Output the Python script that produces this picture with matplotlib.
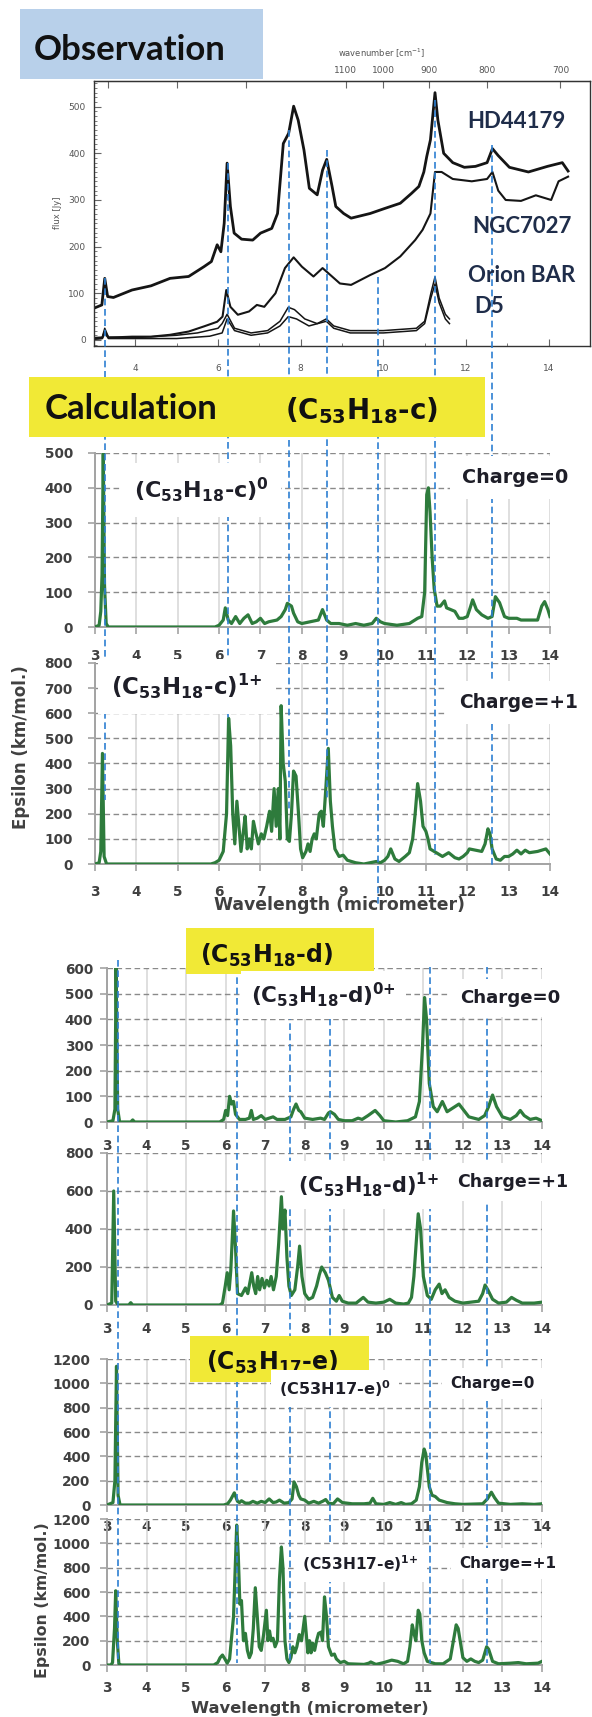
import numpy as np
import matplotlib
matplotlib.use("Agg")
import matplotlib.pyplot as plt
from matplotlib.lines import Line2D
from matplotlib.patches import Rectangle
from matplotlib.transforms import blended_transform_factory
from matplotlib.ticker import MultipleLocator, FixedLocator

W, H = 592, 1717

# ---- observed spectra (wavelength um, flux Jy) ----
hd44179 = [(3.0, 68), (3.19, 75), (3.26, 132), (3.33, 93), (3.47, 91), (3.92, 107), (4.38, 116),
           (4.84, 132), (5.29, 136), (5.66, 157), (5.84, 168), (5.98, 204), (6.07, 189), (6.15, 250),
           (6.22, 379), (6.3, 286), (6.39, 229), (6.57, 216), (6.84, 214), (7.03, 229), (7.3, 239),
           (7.44, 271), (7.58, 421), (7.71, 443), (7.83, 501), (7.94, 471), (8.08, 407), (8.21, 325),
           (8.4, 311), (8.53, 364), (8.63, 387), (8.76, 329), (8.85, 286), (9.04, 271), (9.22, 261),
           (9.68, 271), (10.04, 282), (10.41, 293), (10.68, 314), (10.86, 329), (10.98, 360),
           (11.05, 393), (11.14, 429), (11.25, 530), (11.32, 471), (11.46, 400), (11.68, 380),
           (11.96, 370), (12.23, 372), (12.51, 380), (12.64, 410), (12.78, 395), (13.05, 370),
           (13.51, 360), (13.97, 372), (14.33, 380), (14.47, 362)]
ngc7027 = [(3.0, 2), (3.2, 4), (3.26, 18), (3.35, 5), (3.92, 7), (4.38, 7), (4.84, 11), (5.29, 18),
           (5.66, 29), (5.98, 39), (6.11, 50), (6.2, 107), (6.3, 71), (6.48, 54), (6.75, 61),
           (6.94, 75), (7.12, 71), (7.39, 100), (7.62, 154), (7.83, 177), (8.03, 157), (8.31, 136),
           (8.53, 154), (8.67, 143), (8.95, 121), (9.22, 118), (9.68, 139), (10.04, 154),
           (10.41, 179), (10.77, 214), (10.95, 236), (11.14, 271), (11.25, 360), (11.41, 360),
           (11.68, 345), (12.14, 340), (12.51, 345), (12.64, 360), (12.78, 320), (12.96, 300),
           (13.33, 298), (13.69, 310), (14.06, 300), (14.24, 340), (14.47, 350)]
orion_bar = [(3.0, 5), (3.2, 6), (3.26, 25), (3.35, 6), (4.0, 5), (5.0, 10), (5.5, 15), (6.0, 25),
             (6.1, 35), (6.22, 55), (6.4, 25), (6.8, 15), (7.2, 20), (7.5, 40), (7.7, 70),
             (7.85, 65), (8.1, 45), (8.4, 35), (8.62, 45), (8.8, 30), (9.2, 20), (10.0, 20),
             (10.8, 25), (11.0, 40), (11.15, 100), (11.25, 135), (11.35, 90), (11.5, 55), (11.6, 45)]
d5 = [(3.0, 2), (3.2, 3), (3.26, 15), (3.35, 3), (5.0, 3), (5.8, 8), (6.1, 15), (6.22, 45),
      (6.4, 20), (6.8, 10), (7.2, 15), (7.5, 30), (7.7, 50), (7.9, 45), (8.2, 30), (8.62, 40),
      (8.8, 25), (9.2, 15), (10.0, 15), (10.8, 20), (11.0, 35), (11.15, 90), (11.25, 120),
      (11.35, 80), (11.5, 45), (11.6, 35)]

# ---- calculated spectra (wavelength um, epsilon km/mol) ----
c_neutral = [(3.0, 0), (3.1, 5), (3.14, 45), (3.17, 150), (3.2, 500), (3.23, 120), (3.27, 10),
             (3.32, 0), (5.9, 0), (6.0, 5), (6.1, 20), (6.15, 55), (6.22, 20), (6.3, 10), (6.4, 30),
             (6.5, 10), (6.6, 25), (6.7, 35), (6.8, 10), (6.9, 15), (7.0, 25), (7.1, 10), (7.2, 15),
             (7.4, 20), (7.5, 30), (7.6, 50), (7.65, 68), (7.75, 60), (7.8, 40), (7.9, 15),
             (8.0, 10), (8.2, 15), (8.4, 20), (8.5, 50), (8.6, 20), (8.7, 10), (8.9, 10), (9.1, 5),
             (9.3, 10), (9.5, 5), (9.7, 10), (9.8, 25), (9.9, 15), (10.0, 10), (10.3, 5),
             (10.6, 10), (10.8, 25), (10.9, 30), (10.97, 100), (11.02, 380), (11.06, 400),
             (11.1, 330), (11.15, 200), (11.2, 110), (11.27, 60), (11.35, 60), (11.45, 75),
             (11.5, 55), (11.6, 50), (11.7, 45), (11.8, 25), (11.9, 25), (12.0, 30), (12.07, 55),
             (12.13, 78), (12.22, 50), (12.35, 35), (12.5, 25), (12.6, 30), (12.68, 87),
             (12.78, 70), (12.9, 30), (13.0, 25), (13.2, 25), (13.3, 20), (13.5, 20), (13.7, 20),
             (13.8, 60), (13.87, 73), (13.95, 50), (14.0, 30)]
c_cation = [(3.0, 0), (3.1, 5), (3.14, 50), (3.18, 440), (3.22, 30), (3.28, 0), (5.8, 0), (5.9, 5),
            (6.0, 15), (6.1, 50), (6.18, 200), (6.23, 580), (6.28, 470), (6.33, 200), (6.38, 80),
            (6.43, 250), (6.48, 150), (6.53, 50), (6.58, 120), (6.63, 190), (6.68, 60),
            (6.73, 100), (6.78, 60), (6.83, 170), (6.88, 130), (6.95, 80), (7.02, 120),
            (7.08, 100), (7.15, 150), (7.22, 210), (7.27, 130), (7.33, 300), (7.38, 150),
            (7.43, 300), (7.47, 100), (7.5, 630), (7.55, 400), (7.6, 330), (7.65, 100), (7.7, 90),
            (7.75, 200), (7.8, 370), (7.86, 350), (7.92, 200), (7.97, 60), (8.02, 25), (8.1, 50),
            (8.15, 80), (8.2, 50), (8.25, 100), (8.3, 120), (8.35, 100), (8.42, 200), (8.47, 210),
            (8.52, 150), (8.58, 300), (8.64, 460), (8.69, 250), (8.74, 150), (8.8, 60), (8.9, 30),
            (9.0, 35), (9.1, 15), (9.3, 5), (9.5, 0), (9.8, 10), (9.9, 5), (10.0, 15), (10.08, 30),
            (10.15, 60), (10.25, 20), (10.35, 10), (10.5, 30), (10.6, 45), (10.68, 100),
            (10.74, 200), (10.8, 320), (10.87, 250), (10.93, 150), (11.0, 130), (11.05, 100),
            (11.1, 60), (11.2, 50), (11.3, 40), (11.4, 30), (11.5, 40), (11.55, 45), (11.7, 25),
            (11.8, 20), (11.9, 30), (12.0, 45), (12.05, 60), (12.2, 55), (12.35, 50), (12.43, 80),
            (12.5, 140), (12.55, 120), (12.6, 60), (12.7, 20), (12.8, 15), (12.9, 30), (13.0, 30),
            (13.1, 40), (13.2, 55), (13.3, 40), (13.4, 55), (13.5, 45), (13.7, 50), (13.9, 60),
            (14.0, 40)]
d_neutral = [(3.0, 0), (3.15, 5), (3.2, 50), (3.23, 600), (3.27, 50), (3.32, 0), (3.6, 0),
             (3.65, 8), (3.7, 0), (5.85, 0), (5.95, 10), (6.0, 45), (6.05, 25), (6.1, 100),
             (6.15, 70), (6.2, 80), (6.25, 30), (6.35, 10), (6.5, 10), (6.6, 15), (6.65, 45),
             (6.7, 10), (6.8, 15), (6.9, 25), (7.0, 10), (7.1, 15), (7.2, 20), (7.3, 10), (7.5, 10),
             (7.65, 20), (7.72, 50), (7.78, 70), (7.85, 45), (7.9, 40), (8.0, 15), (8.2, 10),
             (8.4, 15), (8.5, 10), (8.6, 35), (8.65, 40), (8.75, 30), (8.85, 10), (9.0, 5),
             (9.2, 5), (9.35, 15), (9.45, 10), (9.6, 25), (9.78, 45), (9.9, 25), (10.0, 5),
             (10.3, 0), (10.6, 5), (10.8, 20), (10.9, 80), (10.98, 300), (11.03, 485),
             (11.08, 400), (11.15, 150), (11.25, 60), (11.35, 40), (11.48, 80), (11.6, 40),
             (11.75, 55), (11.9, 70), (12.0, 50), (12.15, 20), (12.4, 10), (12.55, 25),
             (12.65, 60), (12.75, 105), (12.85, 60), (13.0, 20), (13.2, 10), (13.35, 25),
             (13.45, 45), (13.55, 25), (13.7, 10), (13.85, 15), (14.0, 5)]
d_cation = [(3.0, 0), (3.12, 10), (3.17, 600), (3.22, 20), (3.28, 0), (3.55, 0), (3.6, 12),
            (3.65, 0), (5.85, 0), (5.92, 10), (5.99, 100), (6.04, 170), (6.09, 80), (6.13, 180),
            (6.2, 495), (6.25, 300), (6.3, 60), (6.4, 50), (6.5, 90), (6.56, 60), (6.66, 170),
            (6.71, 100), (6.76, 60), (6.81, 150), (6.86, 80), (6.92, 140), (6.98, 90), (7.04, 130),
            (7.1, 100), (7.15, 150), (7.21, 80), (7.28, 150), (7.34, 320), (7.41, 570),
            (7.45, 400), (7.5, 500), (7.55, 250), (7.6, 100), (7.66, 50), (7.75, 80), (7.82, 200),
            (7.87, 310), (7.93, 150), (8.0, 60), (8.1, 30), (8.2, 40), (8.3, 100), (8.37, 160),
            (8.43, 200), (8.52, 170), (8.6, 130), (8.7, 40), (8.8, 20), (8.87, 50), (8.95, 20),
            (9.1, 10), (9.3, 10), (9.48, 40), (9.6, 15), (9.8, 10), (10.0, 15), (10.15, 30),
            (10.3, 10), (10.5, 5), (10.62, 10), (10.7, 40), (10.76, 150), (10.81, 300),
            (10.87, 480), (10.93, 400), (11.0, 150), (11.1, 50), (11.2, 30), (11.3, 80),
            (11.4, 110), (11.47, 60), (11.55, 80), (11.65, 40), (11.8, 20), (12.0, 10), (12.2, 15),
            (12.4, 20), (12.5, 60), (12.56, 105), (12.63, 80), (12.75, 30), (12.9, 10), (13.1, 15),
            (13.23, 40), (13.35, 25), (13.5, 10), (13.8, 10), (14.0, 15)]
e_neutral = [(3.0, 0), (3.15, 20), (3.2, 200), (3.24, 1140), (3.28, 80), (3.33, 0), (5.95, 0),
             (6.05, 10), (6.12, 40), (6.22, 100), (6.3, 30), (6.35, 20), (6.4, 35), (6.5, 15),
             (6.6, 15), (6.69, 30), (6.8, 15), (6.9, 30), (7.0, 20), (7.1, 50), (7.2, 20),
             (7.28, 25), (7.36, 40), (7.48, 15), (7.6, 20), (7.68, 50), (7.73, 190), (7.79, 150),
             (7.85, 80), (7.9, 50), (8.0, 40), (8.1, 15), (8.23, 30), (8.35, 15), (8.45, 30),
             (8.53, 45), (8.6, 15), (8.72, 10), (8.83, 50), (8.95, 20), (9.2, 10), (9.5, 10),
             (9.65, 15), (9.72, 55), (9.8, 10), (10.0, 5), (10.1, 15), (10.15, 20), (10.3, 5),
             (10.44, 20), (10.55, 5), (10.7, 10), (10.82, 40), (10.9, 150), (10.96, 350),
             (11.02, 460), (11.06, 420), (11.1, 300), (11.15, 150), (11.22, 80), (11.3, 70),
             (11.4, 40), (11.6, 20), (11.8, 10), (12.0, 5), (12.5, 10), (12.62, 50), (12.72, 105),
             (12.8, 60), (12.9, 15), (13.2, 5), (13.5, 10), (13.8, 5), (14.0, 10)]
e_cation = [(3.0, 0), (3.1, 0), (3.14, 20), (3.19, 300), (3.22, 610), (3.26, 200), (3.3, 10),
            (3.36, 0), (5.7, 0), (5.8, 20), (5.86, 60), (5.92, 82), (5.98, 50), (6.04, 15),
            (6.1, 50), (6.2, 400), (6.28, 1150), (6.32, 900), (6.36, 500), (6.4, 530), (6.45, 200),
            (6.5, 260), (6.55, 120), (6.6, 60), (6.65, 100), (6.7, 300), (6.75, 635), (6.8, 400),
            (6.85, 150), (6.9, 120), (6.96, 250), (7.03, 450), (7.07, 200), (7.11, 280),
            (7.15, 200), (7.2, 220), (7.25, 150), (7.31, 200), (7.36, 700), (7.41, 970),
            (7.45, 800), (7.5, 200), (7.55, 50), (7.6, 20), (7.65, 60), (7.7, 150), (7.75, 100),
            (7.8, 150), (7.86, 250), (7.92, 200), (8.0, 400), (8.04, 250), (8.08, 100),
            (8.12, 200), (8.16, 100), (8.2, 180), (8.25, 120), (8.3, 200), (8.35, 260),
            (8.41, 270), (8.45, 200), (8.5, 560), (8.55, 400), (8.6, 150), (8.68, 80), (8.75, 90),
            (8.8, 50), (8.9, 20), (9.0, 30), (9.1, 10), (9.5, 5), (9.62, 15), (9.67, 25), (9.8, 5),
            (10.0, 20), (10.2, 40), (10.35, 30), (10.5, 10), (10.6, 30), (10.66, 150),
            (10.72, 330), (10.77, 250), (10.81, 200), (10.87, 450), (10.91, 420), (10.96, 200),
            (11.02, 100), (11.1, 30), (11.3, 10), (11.5, 10), (11.68, 50), (11.76, 200),
            (11.83, 330), (11.88, 300), (11.93, 200), (12.0, 60), (12.1, 30), (12.2, 50),
            (12.3, 30), (12.4, 20), (12.5, 40), (12.6, 150), (12.65, 130), (12.75, 30), (12.9, 10),
            (13.2, 15), (13.4, 20), (13.6, 10), (13.9, 15), (14.0, 30)]

# band positions marked with dashed lines (um)
bands_obs = [3.26, 6.23, 7.72, 8.63, 9.88, 11.25, 12.63]
bands_de = [3.28, 6.28, 7.62, 8.63, 11.16, 12.62]

wn_ticks = [3000, 2000, 1500, 1100, 1000, 900, 800, 700]
wn_labels = ['', '', '', '1100', '1000', '900', '800', '700']

GREEN = '#2e7b3c'
BLUE = '#2d7fd2'
YELLOW = '#f1e936'
OBS_BLUE = '#b8d0ea'
GRID_DASH = '#8a8a8a'
GRID_V = '#d6d6d6'
SPINE = '#a3a3a3'
TICK_TXT = '#404040'
LABEL_TXT = '#1e1e28'
NAVY = '#1f2d4a'

plt.rcParams['font.family'] = ['DejaVu Sans']

fig = plt.figure(figsize=(W / 100, H / 100), dpi=100)


def box(l, t, r, b):
    return [l / W, 1 - b / H, (r - l) / W, (b - t) / H]


def ftext(x, y, s, **kw):
    return fig.text(x / W, 1 - y / H, s, **kw)


def rect(l, t, r, b, color):
    fig.add_artist(Rectangle((l / W, 1 - b / H), (r - l) / W, (b - t) / H,
                             transform=fig.transFigure, facecolor=color,
                             edgecolor='none', zorder=2.5))


def xy(data):
    arr = np.array(data, dtype=float)
    return arr[:, 0], arr[:, 1]


# ---------------- observation panel ----------------
ax_obs = fig.add_axes(box(94, 81, 590, 346))
for data, lw in [(hd44179, 2.0), (ngc7027, 1.5), (orion_bar, 1.1), (d5, 1.1)]:
    x, y = xy(data)
    ax_obs.plot(x, y, color='#151515', lw=lw)
ax_obs.set_xlim(3, 15)
ax_obs.set_ylim(-13, 555)
ax_obs.xaxis.set_major_locator(FixedLocator([4, 6, 8, 10, 12, 14]))
ax_obs.xaxis.set_minor_locator(MultipleLocator(1))
ax_obs.yaxis.set_major_locator(MultipleLocator(100))
ax_obs.yaxis.set_minor_locator(MultipleLocator(10))
ax_obs.tick_params(which='both', direction='in', color='#666', labelcolor='#555', labelsize=6.5)
ax_obs.tick_params(which='major', length=5)
ax_obs.tick_params(which='minor', length=2.5)
ax_obs.tick_params(axis='x', pad=13)
ax_obs.tick_params(axis='y', pad=6)
for s in ax_obs.spines.values():
    s.set_color('#333')
    s.set_linewidth(1.0)


def wl2wn(x):
    x = np.asarray(x, dtype=float)
    with np.errstate(divide='ignore'):
        return 1e4 / x


sec = ax_obs.secondary_xaxis('top', functions=(wl2wn, wl2wn))
sec.set_xticks(wn_ticks, wn_labels)
sec.tick_params(direction='in', length=5, color='#666', labelcolor='#555', labelsize=6.5, pad=4)
sec.spines['top'].set_color('#333')
for lab in ax_obs.get_xticklabels() + ax_obs.get_yticklabels() + sec.get_xticklabels():
    lab.set_family(['Liberation Sans Narrow', 'DejaVu Sans'])

ftext(381, 53, r'wavenumber [cm$^{-1}$]', fontsize=6, color='#555', ha='center', va='center',
      family=['Liberation Sans Narrow', 'DejaVu Sans'])
ftext(58, 213, 'flux [Jy]', fontsize=6, color='#555', ha='center', va='center', rotation=90,
      family=['Liberation Sans Narrow', 'DejaVu Sans'])

rect(20, 9, 263, 79, OBS_BLUE)
ftext(34, 60, 'Observation', fontsize=25, fontweight='bold', family='Lato', color='#111')
for name, x0, yb in [('HD44179', 467, 128), ('NGC7027', 472, 233), ('Orion BAR', 468, 282),
                     ('D5', 474, 313)]:
    ftext(x0, yb, name, fontsize=16, fontweight='bold', family='Lato', color=NAVY)


# ---------------- calculated panels ----------------
def calc_panel(l, t, r, b, data, ymax, ystep, xpad, ypad):
    ax = fig.add_axes(box(l, t, r, b))
    ax.set_facecolor('none')
    x, y = xy(data)
    ax.plot(x, y, color=GREEN, lw=2.3, solid_joinstyle='round', zorder=3)
    ax.set_xlim(3, 14)
    ax.set_ylim(0, ymax)
    ax.set_xticks(np.arange(3, 15))
    ax.set_yticks(np.arange(0, ymax + 1, ystep))
    ax.grid(axis='x', color=GRID_V, lw=1.1)
    ax.grid(axis='y', color=GRID_DASH, lw=1.0, ls=(0, (4, 2.5)))
    ax.set_axisbelow(True)
    for s in ['top', 'right']:
        ax.spines[s].set_visible(False)
    for s in ['left', 'bottom']:
        ax.spines[s].set_color(SPINE)
        ax.spines[s].set_linewidth(1.4)
    ax.tick_params(length=5, width=1.2, color=SPINE, labelsize=9.8, labelcolor=TICK_TXT)
    ax.tick_params(axis='x', pad=xpad)
    ax.tick_params(axis='y', pad=ypad)
    for lab in ax.get_xticklabels() + ax.get_yticklabels():
        lab.set_fontweight('bold')
    return ax


ax_c0 = calc_panel(95, 453, 550, 627, c_neutral, 500, 100, 10.5, 11)
ax_c1 = calc_panel(95, 663, 550, 864, c_cation, 800, 100, 10, 11)
ax_d0 = calc_panel(107, 968, 542, 1122, d_neutral, 600, 100, 7, 5)
ax_d1 = calc_panel(107, 1153, 542, 1305, d_cation, 800, 200, 7, 5)
ax_e0 = calc_panel(107, 1359, 542, 1505, e_neutral, 1200, 200, 5.5, 7)
ax_e1 = calc_panel(107, 1519, 542, 1665, e_cation, 1200, 200, 6.5, 7)

# dashed band markers, (top px, bottom px) for each band
spans_obs = [(278, 800), (163, 720), (130, 810), (150, 800), (277, 905), (100, 855), (145, 865)]
spans_de = [(960, 1663), (967, 1663), (1013, 1663), (967, 1640), (967, 1663), (967, 1663)]
for ax_ref, bands, spans in [(ax_obs, bands_obs, spans_obs), (ax_d0, bands_de, spans_de)]:
    tr = blended_transform_factory(ax_ref.transData, fig.transFigure)
    for wl, (y0, y1) in zip(bands, spans):
        fig.add_artist(Line2D([wl, wl], [1 - y0 / H, 1 - y1 / H], transform=tr, color=BLUE,
                              lw=1.2, ls=(0, (4, 2.2)), zorder=2))

# title boxes
rect(29, 377, 485, 437, YELLOW)
ftext(45, 419, 'Calculation', fontsize=25, fontweight='bold', family='Lato', color='#111')
ftext(285, 419, r'(C$_{\mathbf{53}}$H$_{\mathbf{18}}$-c)', fontsize=20, fontweight='bold',
      color='#111')
rect(186, 928, 374, 974, YELLOW)
ftext(200, 963, r'(C$_{\mathbf{53}}$H$_{\mathbf{18}}$-d)', fontsize=17, fontweight='bold',
      color='#111')
rect(190, 1336, 369, 1382, YELLOW)
ftext(206, 1370, r'(C$_{\mathbf{53}}$H$_{\mathbf{17}}$-e)', fontsize=17, fontweight='bold',
      color='#111')

white = dict(facecolor='white', edgecolor='none')
labels = [
    (134, 498, r'(C$_{\mathbf{53}}$H$_{\mathbf{18}}$-c)$^{\mathbf{0}}$', 16, 9),
    (462, 483, 'Charge=0', 13.8, 9),
    (111, 695, r'(C$_{\mathbf{53}}$H$_{\mathbf{18}}$-c)$^{\mathbf{1{+}}}$', 16.5, 9),
    (459, 708, 'Charge=+1', 13.4, 9),
    (251, 1003, r'(C$_{\mathbf{53}}$H$_{\mathbf{18}}$-d)$^{\mathbf{0{+}}}$', 15.5, 7),
    (460, 1003, 'Charge=0', 13.1, 7),
    (298, 1193, r'(C$_{\mathbf{53}}$H$_{\mathbf{18}}$-d)$^{\mathbf{1{+}}}$', 15, 7),
    (457, 1187, 'Charge=+1', 12.5, 7),
    (279, 1395, r'(C53H17-e)$^{\mathbf{0}}$', 11.6, 6),
    (450, 1388, 'Charge=0', 11, 6),
    (302, 1570, r'(C53H17-e)$^{\mathbf{1{+}}}$', 11.2, 6),
    (459, 1568, 'Charge=+1', 11, 6),
]
for x0, yb, s, fs, pad in labels:
    ftext(x0, yb, s, fontsize=fs, fontweight='bold', color=LABEL_TXT,
          bbox=dict(white, pad=pad))

# axis titles
ftext(340, 910, 'Wavelength (micrometer)', fontsize=12.4, fontweight='bold', color=TICK_TXT,
      ha='center')
ftext(21, 747, 'Epsilon (km/mol.)', fontsize=12, fontweight='bold', color=TICK_TXT,
      ha='center', va='center', rotation=90)
ftext(310, 1713, 'Wavelength (micrometer)', fontsize=11.8, fontweight='bold', color=TICK_TXT,
      ha='center')
ftext(43, 1600, 'Epsilon (km/mol.)', fontsize=11.3, fontweight='bold', color=TICK_TXT,
      ha='center', va='center', rotation=90)

fig.savefig('out.png', dpi=100, facecolor='white')
